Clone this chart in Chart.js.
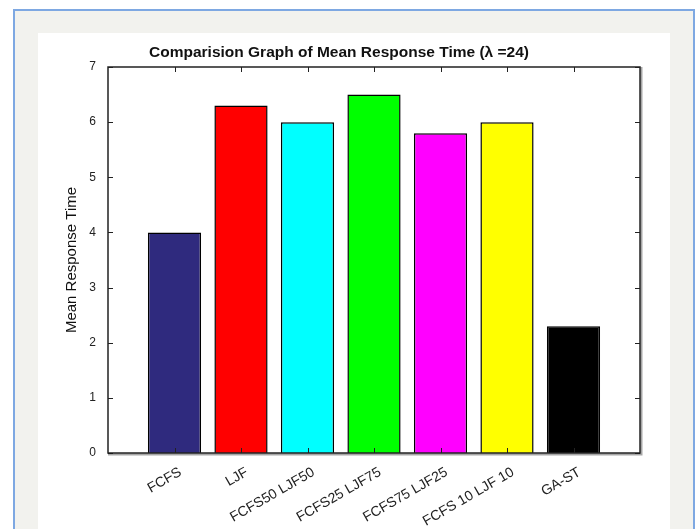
<!DOCTYPE html>
<html>
<head>
<meta charset="utf-8">
<script src="https://cdn.jsdelivr.net/npm/chart.js@4"></script>
<style>
    html, body { margin: 0; padding: 0; background: #ffffff; }
    body { width: 699px; height: 529px; position: relative; overflow: hidden; }
    .frame {
        position: absolute; left: 13px; top: 9px; width: 678px; height: 540px;
        background: #f2f2ee; border: 2px solid #7ea8e2;
    }
    .panel {
        position: absolute; left: 38px; top: 33px; width: 632px; height: 496px;
        background: #ffffff;
    }
    canvas { display: block; }
</style>
</head>
<body>
<div class="frame"></div>
<div class="panel"><canvas id="chart" width="632" height="496"></canvas></div>
<script>
// данные графика
const categories = ['FCFS', 'LJF', 'FCFS50 LJF50', 'FCFS25 LJF75', 'FCFS75 LJF25', 'FCFS 10 LJF 10', 'GA-ST'];
const meanResponse = [4.0, 6.3, 6.0, 6.5, 5.8, 6.0, 2.3];
const barColors = ['#2f2a7e', '#ff0000', '#00ffff', '#00ff00', '#ff00ff', '#ffff00', '#000000'];
const yTicks = [0, 1, 2, 3, 4, 5, 6, 7];

const fontFamily = '"Liberation Sans", Arial, sans-serif';

// рамка вокруг области графика и внутренние засечки
const boxPlugin = {
    id: 'boxPlugin',
    afterDatasetsDraw(chart) {
        const { ctx, chartArea: a, scales } = chart;
        ctx.save();
        ctx.strokeStyle = '#222';
        ctx.lineWidth = 1;
        yTicks.forEach(v => {
            const y = Math.round(scales.y.getPixelForValue(v)) + 0.5;
            ctx.beginPath();
            ctx.moveTo(a.left, y); ctx.lineTo(a.left + 5, y);
            ctx.moveTo(a.right, y); ctx.lineTo(a.right - 5, y);
            ctx.stroke();
        });
        categories.forEach((c, i) => {
            const x = Math.round(scales.x.getPixelForValue(i + 1)) + 0.5;
            ctx.beginPath();
            ctx.moveTo(x, a.top); ctx.lineTo(x, a.top + 5);
            ctx.moveTo(x, a.bottom); ctx.lineTo(x, a.bottom - 5);
            ctx.stroke();
        });
        ctx.lineWidth = 1.5;
        ctx.strokeRect(a.left, a.top, a.right - a.left, a.bottom - a.top);
        // серая тень справа и снизу, как на исходнике
        ctx.strokeStyle = 'rgba(0,0,0,0.35)';
        ctx.lineWidth = 2;
        ctx.beginPath();
        ctx.moveTo(a.right + 1.5, a.top);
        ctx.lineTo(a.right + 1.5, a.bottom + 1.5);
        ctx.lineTo(a.left, a.bottom + 1.5);
        ctx.stroke();
        ctx.restore();
    }
};

const ctx = document.getElementById('chart').getContext('2d');
new Chart(ctx, {
    type: 'bar',
    data: {
        datasets: [{
            data: meanResponse.map((v, i) => ({ x: i + 1, y: v })),
            backgroundColor: barColors,
            borderColor: '#000',
            borderWidth: 1.5,
            barPercentage: 0.8,
            categoryPercentage: 1
        }]
    },
    options: {
        responsive: false,
        animation: false,
        layout: { padding: { left: 0, right: 30, top: 0, bottom: 0 } },
        plugins: {
            legend: { display: false },
            tooltip: { enabled: false },
            title: {
                display: true,
                text: 'Comparision Graph of Mean Response Time (λ =24)',
                color: '#111',
                font: { family: fontFamily, size: 15.5, weight: 'bold' },
                padding: { top: 10, bottom: 5.4 }
            }
        },
        scales: {
            x: {
                type: 'linear',
                offset: false,
                min: 0,
                max: 8,
                grid: { display: false },
                border: { display: false },
                afterFit: s => { s.height = 76; },
                afterBuildTicks: s => { s.ticks = categories.map((c, i) => ({ value: i + 1 })); },
                ticks: {
                    autoSkip: false,
                    minRotation: 30,
                    maxRotation: 30,
                    padding: 3,
                    labelOffset: 6,
                    color: '#222',
                    font: { family: fontFamily, size: 14 },
                    callback: v => categories[v - 1] || ''
                }
            },
            y: {
                min: 0,
                max: 7,
                grid: { display: false },
                border: { display: false },
                afterFit: s => { s.width = 70; },
                afterBuildTicks: s => { s.ticks = yTicks.map(v => ({ value: v })); },
                ticks: {
                    padding: 4,
                    color: '#222',
                    font: { family: fontFamily, size: 12 }
                },
                title: {
                    display: true,
                    text: 'Mean Response Time',
                    color: '#111',
                    font: { family: fontFamily, size: 15 },
                    padding: { top: 25, bottom: 0 }
                }
            }
        }
    },
    plugins: [boxPlugin]
});
</script>
</body>
</html>
